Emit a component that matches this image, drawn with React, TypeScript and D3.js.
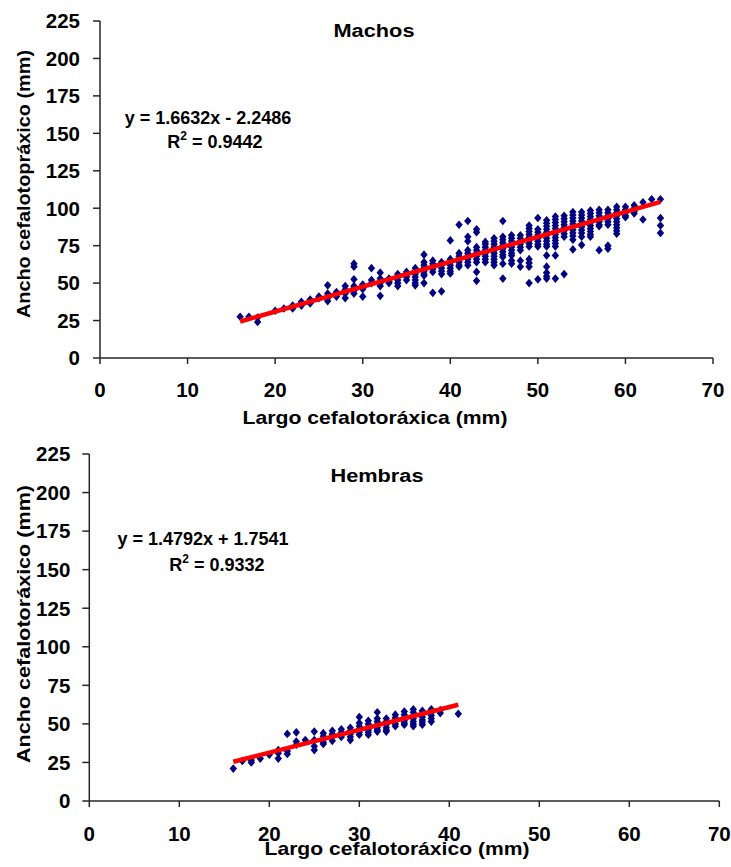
import React from 'react';
import * as d3 from 'd3';

const xTicks = [0, 10, 20, 30, 40, 50, 60, 70];
const yTicks = [0, 25, 50, 75, 100, 125, 150, 175, 200, 225];

// Machos: [largo, [ancho values]]
const machosCols: [number, number[]][] = [
  [16, [27.5]],
  [17, [27.5]],
  [18, [27, 24]],
  [20, [31.5]],
  [21, [33]],
  [22, [35, 33]],
  [23, [37.5, 35]],
  [24, [39, 36.5]],
  [25, [40, 41]],
  [26, [48.5, 43, 40, 38]],
  [27, [44, 41]],
  [28, [48, 45.5, 43, 40]],
  [29, [63, 61, 52.5, 48, 46.5, 45, 43]],
  [30, [49, 47, 46, 41]],
  [31, [60, 52, 50]],
  [32, [57, 53, 50, 48, 41.5]],
  [33, [53, 51, 50]],
  [34, [56, 54, 52, 50, 48]],
  [35, [57.5, 55.5, 54, 52]],
  [36, [60, 58, 56, 54, 52, 50, 48.5]],
  [37, [69, 64, 62, 60, 58, 56, 55, 50]],
  [38, [65, 63, 61, 59.5, 57.5, 43.5]],
  [39, [64, 62, 60, 58, 56, 44.5]],
  [40, [78.5, 66, 64, 62, 60, 58, 56.5]],
  [41, [89, 70, 68, 66, 64, 62, 61]],
  [42, [91.5, 81, 78, 72, 70, 68, 66, 64, 62]],
  [43, [86, 84, 74, 72, 70, 68, 66, 64, 57.5, 51.5]],
  [44, [77.5, 76, 74, 72, 70, 68, 66, 64]],
  [45, [80, 78, 76, 74, 72, 70, 68, 66, 64, 62]],
  [46, [91.5, 81, 79, 77, 75, 73, 71, 69, 67.5, 63, 53]],
  [47, [82, 80, 78, 76, 74, 72, 70, 68.5, 65, 63]],
  [48, [82, 80, 78, 76, 74, 72, 65, 61]],
  [49, [88.5, 86.5, 84.5, 82.5, 80.5, 78.5, 76.5, 74.5, 66, 63.5, 61, 50]],
  [50, [93.5, 86, 84, 82, 80, 78, 76, 74.5, 52.5]],
  [51, [92, 90, 88, 86, 84, 82, 80, 78, 76, 74.5, 68.5, 61, 57, 54.5, 53]],
  [52, [94.5, 92.5, 90.5, 88.5, 86.5, 84.5, 82.5, 80.5, 78.5, 76.5, 74.5, 68.5, 53]],
  [53, [95, 93, 91, 89, 87, 85, 83, 81, 56]],
  [54, [97.5, 95.5, 93.5, 91.5, 89.5, 87.5, 85.5, 83.5, 81.5, 79, 72.5]],
  [55, [97.5, 95.5, 93.5, 91.5, 89.5, 87.5, 85.5, 83.5, 81, 75.5]],
  [56, [98.5, 96.5, 94.5, 92.5, 90.5, 88.5, 86.5, 84.5, 82.5, 81]],
  [57, [99, 97, 95, 93, 91, 89, 88, 72]],
  [58, [99, 97, 95, 93, 91, 89, 75, 73]],
  [59, [101, 99, 97, 95, 93, 91, 89, 87, 85, 83]],
  [60, [101, 99, 97, 95, 94]],
  [61, [102, 100, 98, 96.5]],
  [62, [104, 92.5]],
  [63, [106]],
  [64, [106, 93.5, 88.5, 83.5]],
];

// Hembras: [largo, [ancho values]]
const hembrasCols: [number, number[]][] = [
  [16, [21]],
  [17, [26]],
  [18, [26.5, 25]],
  [19, [27.5]],
  [20, [30]],
  [21, [33, 31, 27.5]],
  [22, [43.5, 32.5, 30.5]],
  [23, [44.5, 38.5, 36.5]],
  [24, [39.5]],
  [25, [45, 39.5, 35.5, 33]],
  [26, [44, 42, 40, 38, 37]],
  [27, [45.5, 43.5, 41.5, 39]],
  [28, [46.5, 44.5, 43, 41.5]],
  [29, [47.5, 45.5, 43.5, 41.5, 39.5]],
  [30, [54.5, 50.5, 48.5, 46.5, 44.5, 43]],
  [31, [52, 50, 48, 46, 44.5, 43]],
  [32, [57.5, 53.5, 51.5, 49.5, 47.5, 46, 45]],
  [33, [53.5, 51.5, 49.5, 47.5, 46, 45]],
  [34, [56, 54, 52, 50, 48.5]],
  [35, [58, 56, 54, 52, 50.5, 49.5]],
  [36, [59.5, 57.5, 55.5, 53.5, 51.5, 50, 48.5]],
  [37, [58.5, 56.5, 54.5, 52.5, 51, 49.5]],
  [38, [59.5, 57.5, 55.5, 53.5, 51.5]],
  [39, [59, 57]],
  [41, [56.5]],
];

const machosFit = { slope: 1.6632, intercept: -2.2486, from: 16, to: 64 };
const hembrasFit = { slope: 1.4792, intercept: 1.7541, from: 16, to: 41 };

const FONT = "'Liberation Sans', Arial, Helvetica, sans-serif";
const NAVY = '#000080';
const AXIS = '#262626';

const diamond = {
  draw(ctx: any) {
    ctx.moveTo(0, -4.3);
    ctx.lineTo(3.7, 0);
    ctx.lineTo(0, 4.3);
    ctx.lineTo(-3.7, 0);
    ctx.closePath();
  },
};
const diamondPath = d3.symbol().type(diamond as any)() as string;

type PanelProps = {
  cols: [number, number[]][];
  fit: { slope: number; intercept: number; from: number; to: number };
  xRange: [number, number];
  yRange: [number, number];
  title: string;
  titleX: number;
  titleY: number;
  titleLen: number;
  xTitle: string;
  xTitleX: number;
  xTitleY: number;
  xTitleLen: number;
  yTitle: string;
  yTitleCx: number;
  yTitleCy: number;
  yTitleLen: number;
  eq1: string;
  eq1X: number;
  eq1Y: number;
  eq2: string;
  eq2X: number;
  eq2Y: number;
  xLabelDy: number;
  yLabelDx: number;
};

function Panel(p: PanelProps) {
  const x = d3.scaleLinear().domain([0, 70]).range(p.xRange);
  const y = d3.scaleLinear().domain([0, 225]).range(p.yRange);
  const pts: [number, number][] = [];
  p.cols.forEach(([lx, ys]) => ys.forEach((v) => pts.push([lx, v])));
  const line = d3
    .line<number>()
    .x((d) => x(d))
    .y((d) => y(p.fit.slope * d + p.fit.intercept));
  const x0 = x(0);
  const y0 = y(0);
  return (
    <g>
      <line x1={x0} x2={x0} y1={y(225)} y2={y0} stroke={AXIS} strokeWidth={1.5} />
      <line x1={x0} x2={x(70)} y1={y0} y2={y0} stroke={AXIS} strokeWidth={1.5} />
      {yTicks.map((t) => (
        <g key={'y' + t}>
          <line x1={x0 - 7} x2={x0} y1={y(t)} y2={y(t)} stroke={AXIS} strokeWidth={1.5} />
          <text
            x={x0 - p.yLabelDx}
            y={y(t)}
            dy="0.36em"
            textAnchor="end"
            fontSize={20.5}
            fontWeight="bold"
            fontFamily={FONT}
          >
            {t}
          </text>
        </g>
      ))}
      {xTicks.map((t) => (
        <g key={'x' + t}>
          <line x1={x(t)} x2={x(t)} y1={y0} y2={y0 + 6} stroke={AXIS} strokeWidth={1.5} />
          <text
            x={x(t)}
            y={y0 + p.xLabelDy}
            textAnchor="middle"
            fontSize={20.5}
            fontWeight="bold"
            fontFamily={FONT}
          >
            {t}
          </text>
        </g>
      ))}
      {pts.map(([a, b], i) => (
        <path key={i} d={diamondPath} transform={`translate(${x(a)},${y(b)})`} fill={NAVY} />
      ))}
      <path
        d={line([p.fit.from, p.fit.to]) as string}
        stroke="#ff0000"
        strokeWidth={4.5}
        fill="none"
      />
      <text
        x={p.titleX}
        y={p.titleY}
        textAnchor="middle"
        fontSize={18}
        fontWeight="bold"
        fontFamily={FONT}
        textLength={p.titleLen}
        lengthAdjust="spacingAndGlyphs"
      >
        {p.title}
      </text>
      <text
        x={p.xTitleX}
        y={p.xTitleY}
        textAnchor="middle"
        fontSize={18.5}
        fontWeight="bold"
        fontFamily={FONT}
        textLength={p.xTitleLen}
        lengthAdjust="spacingAndGlyphs"
      >
        {p.xTitle}
      </text>
      <text
        transform={`translate(${p.yTitleCx},${p.yTitleCy}) rotate(-90)`}
        textAnchor="middle"
        fontSize={18.5}
        fontWeight="bold"
        fontFamily={FONT}
        textLength={p.yTitleLen}
        lengthAdjust="spacingAndGlyphs"
      >
        {p.yTitle}
      </text>
      <text x={p.eq1X} y={p.eq1Y} textAnchor="middle" fontSize={18} fontWeight="bold" fontFamily={FONT}>
        {p.eq1}
      </text>
      <text x={p.eq2X} y={p.eq2Y} textAnchor="middle" fontSize={18} fontWeight="bold" fontFamily={FONT}>
        R
        <tspan fontSize={12} dy={-8}>
          2
        </tspan>
        <tspan dy={8}>{' = ' + p.eq2}</tspan>
      </text>
    </g>
  );
}

export default function App() {
  return (
    <svg
      width={731}
      height={867}
      style={{ position: 'absolute', left: 0, top: 0, background: '#fff' }}
    >
      <rect width={731} height={867} fill="#fff" />
      <Panel
        cols={machosCols}
        fit={machosFit}
        xRange={[100, 713]}
        yRange={[358, 21]}
        title="Machos"
        titleX={374}
        titleY={37}
        titleLen={81}
        xTitle="Largo cefalotoráxica (mm)"
        xTitleX={375}
        xTitleY={424}
        xTitleLen={265}
        yTitle="Ancho cefalotopráxico (mm)"
        yTitleCx={30}
        yTitleCy={184}
        yTitleLen={268}
        eq1="y = 1.6632x - 2.2486"
        eq1X={208}
        eq1Y={124}
        eq2="0.9442"
        eq2X={215}
        eq2Y={148}
        xLabelDy={39}
        yLabelDx={20}
      />
      <Panel
        cols={hembrasCols}
        fit={hembrasFit}
        xRange={[89.3, 719.3]}
        yRange={[801, 454]}
        title="Hembras"
        titleX={377}
        titleY={482}
        titleLen={93}
        xTitle="Largo cefalotoráxico (mm)"
        xTitleX={397}
        xTitleY={855}
        xTitleLen={265}
        yTitle="Ancho cefalotoráxico (mm)"
        yTitleCx={30}
        yTitleCy={624}
        yTitleLen={278}
        eq1="y = 1.4792x + 1.7541"
        eq1X={203}
        eq1Y={545}
        eq2="0.9332"
        eq2X={217}
        eq2Y={571}
        xLabelDy={39.5}
        yLabelDx={19}
      />
    </svg>
  );
}
